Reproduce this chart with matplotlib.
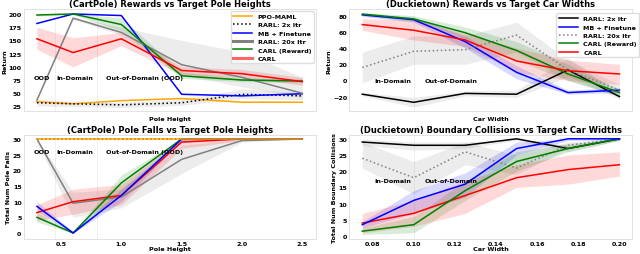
import matplotlib
matplotlib.use('Agg')
import matplotlib.pyplot as plt
import numpy as np

plt.rcParams['font.family'] = ['DejaVu Sans']
plt.rcParams['font.weight'] = 'bold'
plt.rcParams['axes.titleweight'] = 'bold'
plt.rcParams['axes.labelweight'] = 'bold'

# ---- CartPole data ----
pole_heights = [0.3, 0.6, 1.0, 1.5, 2.0, 2.5]

cp_rew_ppo = [34, 30, 36, 40, 33, 33]
cp_rew_rarl2 = [32, 30, 28, 32, 48, 45]
cp_rew_rarl2_lo = [26, 25, 23, 27, 40, 38]
cp_rew_rarl2_hi = [38, 35, 33, 38, 58, 52]
cp_rew_mb = [182, 200, 197, 48, 45, 49]
cp_rew_rarl20 = [37, 192, 165, 104, 80, 50]
cp_rew_rarl20_lo = [37, 190, 160, 85, 62, 42]
cp_rew_rarl20_hi = [37, 194, 175, 150, 128, 80]
cp_rew_carlr = [198, 200, 180, 83, 75, 73]
cp_rew_carlr_lo = [196, 199, 168, 78, 72, 70]
cp_rew_carlr_hi = [200, 200, 193, 90, 79, 77]
cp_rew_carl = [153, 127, 153, 93, 87, 72]
cp_rew_carl_lo = [133, 100, 140, 85, 80, 65]
cp_rew_carl_hi = [175, 155, 165, 100, 95, 80]

cp_fall_ppo = [30, 30, 30, 30, 30, 30]
cp_fall_rarl2 = [30, 30, 30, 30, 30, 30]
cp_fall_mb = [8.5, 0, 12, 30, 30, 30]
cp_fall_mb_lo = [7, 0, 10, 29.5, 30, 30]
cp_fall_mb_hi = [10, 0.5, 14, 30, 30, 30]
cp_fall_rarl20 = [30, 9.5, 11.5, 23.5, 29.5, 30]
cp_fall_rarl20_lo = [29, 5, 8, 19, 29, 30]
cp_fall_rarl20_hi = [30, 13, 14, 28, 30, 30]
cp_fall_carlr = [5, 0, 16, 30, 30, 30]
cp_fall_carlr_lo = [3.5, 0, 13, 29.5, 30, 30]
cp_fall_carlr_hi = [6.5, 0.5, 18.5, 30, 30, 30]
cp_fall_carl = [6.5, 10, 12, 29, 30, 30]
cp_fall_carl_lo = [4, 6, 9, 27, 29.5, 30]
cp_fall_carl_hi = [9, 14, 15.5, 30, 30, 30]

# ---- Duckietown data ----
car_widths = [0.075, 0.1, 0.125, 0.15, 0.175, 0.2]

dt_rew_rarl2 = [-17, -27, -16, -17, 13, -20]
dt_rew_rarl2_lo = [-19, -33, -19, -21, 5, -23]
dt_rew_rarl2_hi = [-15, -21, -13, -12, 28, -17]
dt_rew_mb = [81, 75, 48, 10, -15, -12]
dt_rew_mb_lo = [79, 72, 40, 2, -17, -15]
dt_rew_mb_hi = [83, 78, 55, 18, -12, -9]
dt_rew_rarl20 = [16, 36, 38, 56, 13, -12]
dt_rew_rarl20_lo = [-3, 20, 20, 35, 0, -20]
dt_rew_rarl20_hi = [35, 55, 55, 72, 25, -5]
dt_rew_carlr = [82, 76, 59, 37, 8, -15]
dt_rew_carlr_lo = [80, 73, 52, 25, 0, -19]
dt_rew_carlr_hi = [84, 80, 66, 48, 20, -11]
dt_rew_carl = [69, 62, 50, 24, 12, 8]
dt_rew_carl_lo = [62, 50, 42, 10, 0, -5]
dt_rew_carl_hi = [76, 75, 58, 40, 25, 20]

dt_col_rarl2 = [29, 28, 28, 30, 27, 30]
dt_col_rarl2_lo = [28, 26.5, 27, 29.5, 26, 29.5]
dt_col_rarl2_hi = [30, 29, 29, 30, 28, 30]
dt_col_mb = [3.5, 11, 16, 27, 30, 30]
dt_col_mb_lo = [2.5, 7, 12, 25, 29.5, 29.5]
dt_col_mb_hi = [4.5, 14, 19.5, 29, 30, 30]
dt_col_rarl20 = [24, 18, 26, 21, 28, 30]
dt_col_rarl20_lo = [21, 13, 22, 19, 27, 29.5]
dt_col_rarl20_hi = [29, 23, 29, 25, 29, 30]
dt_col_carlr = [1.5, 3.5, 14, 23, 27, 30]
dt_col_carlr_lo = [0.5, 1, 11, 20, 26, 29.5]
dt_col_carlr_hi = [2.5, 6, 17, 26, 28.5, 30]
dt_col_carl = [4, 7, 12.5, 18, 20.5, 22]
dt_col_carl_lo = [1, 3, 7, 15, 16, 18.5]
dt_col_carl_hi = [7, 11, 17, 22, 25, 26]

fig = plt.figure(figsize=(6.4, 2.55), dpi=100)
ax1 = fig.add_axes([0.037, 0.56, 0.456, 0.40])
ax2 = fig.add_axes([0.037, 0.059, 0.456, 0.408])
ax3 = fig.add_axes([0.546, 0.56, 0.442, 0.40])
ax4 = fig.add_axes([0.546, 0.059, 0.442, 0.408])

FS = 4.6
TFS = 6.0
for ax in [ax1, ax2, ax3, ax4]:
    for s in ax.spines.values():
        s.set_color('#dddddd')
        s.set_linewidth(0.6)
    ax.tick_params(labelsize=FS, length=0, pad=1.5)


def band(ax, x, lo, hi, c):
    ax.fill_between(x, lo, hi, color=c, alpha=0.15, linewidth=0)


# CartPole rewards
ax = ax1
band(ax, pole_heights, cp_rew_rarl2_lo, cp_rew_rarl2_hi, 'gray')
band(ax, pole_heights, cp_rew_rarl20_lo, cp_rew_rarl20_hi, 'gray')
band(ax, pole_heights, cp_rew_carlr_lo, cp_rew_carlr_hi, 'green')
band(ax, pole_heights, cp_rew_carl_lo, cp_rew_carl_hi, 'red')
ax.plot(pole_heights, cp_rew_ppo, color='orange', lw=1.1, label='PPO-MAML')
ax.plot(pole_heights, cp_rew_rarl2, color='black', lw=1.1, ls=':', label='RARL: 2x Itr')
ax.plot(pole_heights, cp_rew_mb, color='blue', lw=1.1, label='MB + Finetune')
ax.plot(pole_heights, cp_rew_rarl20, color='gray', lw=1.1, label='RARL: 20x Itr')
ax.plot(pole_heights, cp_rew_carlr, color='green', lw=1.1, label='CARL (Reward)')
ax.plot(pole_heights, cp_rew_carl, color='red', lw=1.1, label='CARL')
ax.set_ylim(16, 209)
ax.set_yticks([25, 50, 75, 100, 125, 150, 175, 200])
ax.set_xticklabels([])
ax.set_xlabel('Pole Height', fontsize=FS, labelpad=2)
ax.set_ylabel('Return', fontsize=FS, labelpad=1)
ax.set_title('(CartPole) Rewards vs Target Pole Heights', fontsize=TFS, pad=2)
leg = ax.legend(loc='upper right', fontsize=FS, frameon=True, framealpha=1,
                edgecolor='#dddddd', handlelength=3, borderaxespad=0.3, labelspacing=0.45)
for h in leg.get_lines():
    if h.get_label() in ('RARL: 20x Itr',):
        h.set_linewidth(2.2)
    if h.get_label() == 'CARL':
        h.set_linewidth(2.2)
        h.set_alpha(0.6)

# CartPole falls
ax = ax2
band(ax, pole_heights, cp_fall_rarl20_lo, cp_fall_rarl20_hi, 'gray')
band(ax, pole_heights, cp_fall_carlr_lo, cp_fall_carlr_hi, 'green')
band(ax, pole_heights, cp_fall_mb_lo, cp_fall_mb_hi, 'blue')
band(ax, pole_heights, cp_fall_carl_lo, cp_fall_carl_hi, 'red')
ax.plot(pole_heights, cp_fall_rarl2, color='black', lw=1.1, ls=':')
ax.plot(pole_heights, cp_fall_rarl20, color='gray', lw=1.1)
ax.plot(pole_heights, cp_fall_carl, color='red', lw=1.1)
ax.plot(pole_heights, cp_fall_carlr, color='green', lw=1.1)
ax.plot(pole_heights, cp_fall_mb, color='blue', lw=1.1)
ax.plot(pole_heights, cp_fall_ppo, color='orange', lw=1.1)
ax.set_ylim(-1.9, 31.3)
ax.set_yticks([0, 5, 10, 15, 20, 25, 30])
ax.set_xticks([0.5, 1.0, 1.5, 2.0, 2.5])
ax.set_xlabel('Pole Height', fontsize=FS, labelpad=0)
ax.set_ylabel('Total Num Pole Falls', fontsize=FS, labelpad=1)
ax.set_title('(CartPole) Pole Falls vs Target Pole Heights', fontsize=TFS, pad=2)

for ax, ytxt in [(ax1, 80), (ax2, 26)]:
    ax.axvline(0.45, color='#eeeeee', lw=0.6, zorder=0)
    ax.axvline(0.8, color='#eeeeee', lw=0.6, zorder=0)
    ax.text(0.27, ytxt, 'OOD', fontsize=FS, va='center')
    ax.text(0.46, ytxt, 'In-Domain', fontsize=FS, va='center')
    ax.text(0.87, ytxt, 'Out-of-Domain (OOD)', fontsize=FS, va='center')

# Duckietown rewards
ax = ax3
band(ax, car_widths, dt_rew_rarl2_lo, dt_rew_rarl2_hi, 'gray')
band(ax, car_widths, dt_rew_rarl20_lo, dt_rew_rarl20_hi, 'gray')
band(ax, car_widths, dt_rew_mb_lo, dt_rew_mb_hi, 'blue')
band(ax, car_widths, dt_rew_carlr_lo, dt_rew_carlr_hi, 'green')
band(ax, car_widths, dt_rew_carl_lo, dt_rew_carl_hi, 'red')
ax.plot(car_widths, dt_rew_rarl2, color='black', lw=1.1, label='RARL: 2x Itr')
ax.plot(car_widths, dt_rew_mb, color='blue', lw=1.1, label='MB + Finetune')
ax.plot(car_widths, dt_rew_rarl20, color='gray', lw=1.1, ls=':', label='RARL: 20x Itr')
ax.plot(car_widths, dt_rew_carlr, color='green', lw=1.1, label='CARL (Reward)')
ax.plot(car_widths, dt_rew_carl, color='red', lw=1.1, label='CARL')
ax.set_ylim(-38, 88)
ax.set_yticks([-20, 0, 20, 40, 60, 80])
ax.set_xticklabels([])
ax.set_xlabel('Car Width', fontsize=FS, labelpad=2)
ax.set_ylabel('Return', fontsize=FS, labelpad=1)
ax.set_title('(Duckietown) Rewards vs Target Car Widths', fontsize=TFS, pad=2)
ax.legend(loc='upper left', bbox_to_anchor=(0.72, 0.99), fontsize=FS, frameon=True,
          framealpha=1, edgecolor='#dddddd', handlelength=3, labelspacing=0.45)

# Duckietown collisions
ax = ax4
band(ax, car_widths, dt_col_rarl2_lo, dt_col_rarl2_hi, 'gray')
band(ax, car_widths, dt_col_rarl20_lo, dt_col_rarl20_hi, 'gray')
band(ax, car_widths, dt_col_mb_lo, dt_col_mb_hi, 'blue')
band(ax, car_widths, dt_col_carlr_lo, dt_col_carlr_hi, 'green')
band(ax, car_widths, dt_col_carl_lo, dt_col_carl_hi, 'red')
ax.plot(car_widths, dt_col_rarl2, color='black', lw=1.1)
ax.plot(car_widths, dt_col_rarl20, color='gray', lw=1.1, ls=':')
ax.plot(car_widths, dt_col_carl, color='red', lw=1.1)
ax.plot(car_widths, dt_col_carlr, color='green', lw=1.1)
ax.plot(car_widths, dt_col_mb, color='blue', lw=1.1)
ax.set_ylim(-0.9, 31.2)
ax.set_yticks([0, 5, 10, 15, 20, 25, 30])
ax.set_xticks([0.08, 0.10, 0.12, 0.14, 0.16, 0.18, 0.20])
ax.set_xlabel('Car Width', fontsize=FS, labelpad=0)
ax.set_ylabel('Total Num Boundary Collisions', fontsize=FS, labelpad=1)
ax.set_title('(Duckietown) Boundary Collisions vs Target Car Widths', fontsize=TFS, pad=2)

for ax, ytxt in [(ax3, 0), (ax4, 17)]:
    ax.axvline(0.1, color='#eeeeee', lw=0.6, zorder=0)
    ax.text(0.081, ytxt, 'In-Domain', fontsize=FS, va='center')
    ax.text(0.1055, ytxt, 'Out-of-Domain', fontsize=FS, va='center')

fig.savefig('out.png', dpi=100)
